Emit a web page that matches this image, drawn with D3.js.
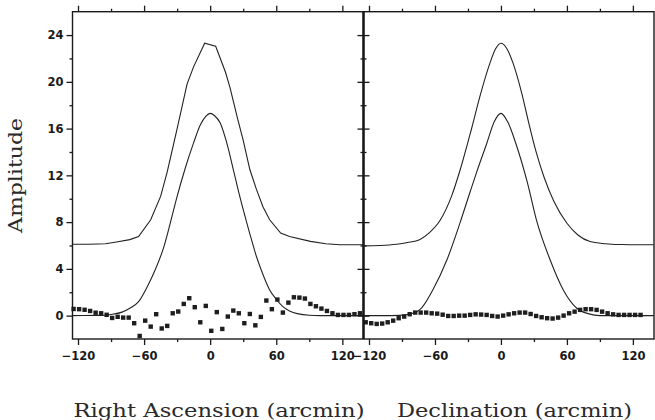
<!DOCTYPE html>
<html>
<head>
<meta charset="utf-8">
<script src="https://cdn.jsdelivr.net/npm/d3@7"></script>
<style>
  html, body { margin: 0; padding: 0; background: #fff; }
  svg { display: block; }
</style>
</head>
<body>
<svg id="chart" width="655" height="420"></svg>
<script>
// ---------- DATA ----------
// Right Ascension panel
const raUpperX = [-125, -110, -95, -85, -73, -65, -54, -45, -39, -30, -21, -15, -5, 5, 14, 18, 25, 30, 36, 42, 48, 54, 64, 72, 91, 105, 118, 139];
const raUpperY = [6.1, 6.1, 6.15, 6.3, 6.5, 6.77, 8.2, 10.2, 12.3, 16.0, 19.8, 21.3, 23.3, 23.05, 20.8, 19.5, 16.8, 15.0, 12.5, 10.8, 9.3, 8.2, 7.06, 6.77, 6.35, 6.15, 6.06, 6.06];
const raLowerX = [-125, -100, -90, -80, -73, -65, -57, -50, -42, -36, -30, -23, -15, -9, -4, 0, 4, 9, 15, 21, 25, 30, 36, 42, 48, 54, 60, 66, 72, 80, 90, 100, 139];
const raLowerY = [0, 0.02, 0.1, 0.3, 0.63, 1.2, 2.5, 3.9, 5.9, 8.0, 10.2, 12.5, 14.8, 16.3, 17.05, 17.3, 17.1, 16.5, 14.8, 12.5, 10.9, 9.06, 7.0, 5.06, 3.5, 2.2, 1.4, 0.77, 0.4, 0.15, 0.03, 0, 0];
const raResX = [-124, -119, -114, -109, -104, -99, -94, -89, -84, -79, -74, -69, -64, -59, -54, -49, -44, -39, -34, -29, -24, -19, -14, -9, -4, 1, 6, 11, 16, 21, 26, 31, 36, 41, 46, 51, 56, 61, 66, 71, 76, 81, 86, 91, 96, 101, 106, 111, 116, 121, 126, 131, 136];
const raResY = [0.57, 0.55, 0.5, 0.4, 0.25, 0.2, 0.07, -0.2, -0.1, -0.17, -0.17, -0.65, -1.74, -0.43, -0.94, 0.12, -1.1, -0.88, 0.2, 0.35, 1.0, 1.49, 0.72, -0.57, 0.83, -1.3, 0.3, -1.14, -0.08, 0.43, 0.2, -0.65, 0.14, -0.83, -0.11, 1.29, 0.55, 1.37, 0.26, 1.11, 1.57, 1.54, 1.46, 1.0, 0.8, 0.6, 0.4, 0.2, 0.06, 0.06, 0.06, 0.12, 0.2];

// Declination panel
const decUpperX = [-125, -110, -95, -85, -74, -65, -55, -45, -37, -27, -19, -10, -5, 0, 5, 11, 19, 25, 32, 39, 48, 60, 70, 81, 95, 110, 125, 139];
const decUpperY = [5.97, 6.0, 6.1, 6.25, 6.5, 7.1, 8.2, 10.2, 12.5, 15.9, 18.8, 21.6, 22.8, 23.3, 22.9, 21.6, 19.0, 16.6, 14.0, 11.9, 9.8, 7.9, 6.9, 6.34, 6.15, 6.08, 6.06, 6.06];
const decLowerX = [-125, -100, -85, -74, -62, -49, -37, -28, -22, -13, -6, 0, 6, 14, 24, 32.5, 44.6, 56.7, 69, 80, 90, 139];
const decLowerY = [0, 0, 0.1, 0.49, 2.2, 4.8, 8.0, 10.6, 12.3, 14.7, 16.6, 17.3, 16.6, 14.6, 11.4, 8.1, 4.8, 2.2, 0.63, 0.15, 0, 0];
const decResX = [-123, -118, -113, -108, -103, -98, -93, -88, -83, -78, -73, -68, -63, -58, -53, -48, -43, -38, -33, -28, -23, -18, -13, -8, -3, 2, 7, 12, 17, 22, 27, 32, 37, 42, 47, 52, 57, 62, 67, 72, 77, 82, 87, 92, 97, 102, 107, 112, 117, 122, 127];
const decResY = [-0.57, -0.65, -0.71, -0.68, -0.57, -0.43, -0.22, -0.08, 0.12, 0.26, 0.26, 0.26, 0.2, 0.17, 0.08, -0.03, -0.03, 0, 0, 0.06, 0.11, 0.09, 0.06, -0.03, -0.08, 0, 0.11, 0.2, 0.26, 0.26, 0.14, -0.03, -0.14, -0.22, -0.25, -0.17, 0, 0.2, 0.34, 0.49, 0.55, 0.55, 0.49, 0.34, 0.2, 0.11, 0.06, 0.06, 0.06, 0.06, 0.06];

const xMajorTicks = [-120, -60, 0, 60, 120];
const xMinorTicks = [-90, -30, 30, 90];
const yMajorTicks = [0, 4, 8, 12, 16, 20, 24];
const yMinorTicks = [2, 6, 10, 14, 18, 22];
const xTitles = ["Right Ascension (arcmin)", "Declination (arcmin)"];
const yTitle = "Amplitude";

// ---------- LAYOUT ----------
const svg = d3.select("#chart");
const L = 72.5, M = 363.5, R = 654, T = 11.7, B = 339;
const xDomain = [-125, 139.2];
const yDomain = [-2, 26];

const y = d3.scaleLinear().domain(yDomain).range([B, T]);
const xLeft = d3.scaleLinear().domain(xDomain).range([L, M]);
const xRight = d3.scaleLinear().domain(xDomain).range([M, R]);

const ink = "#1a1a1a";
const fmt = d3.format("d");

function styleAxis(g) {
  g.select(".domain").remove();
  g.selectAll(".tick line").attr("stroke", ink).attr("stroke-width", 1.3);
  g.selectAll(".tick text")
    .attr("fill", ink)
    .style("font-family", "'DejaVu Sans', sans-serif")
    .style("font-weight", "bold")
    .style("font-size", "11.5px");
}

function panel(x, upperX, upperY, lowerX, lowerY, resX, resY, upperCurve, lowerCurve) {
  svg.append("g").attr("transform", `translate(0,${B})`)
    .call(d3.axisBottom(x).tickValues(xMajorTicks).tickSize(6).tickPadding(7).tickFormat(fmt))
    .call(styleAxis);
  svg.append("g").attr("transform", `translate(0,${B})`)
    .call(d3.axisBottom(x).tickValues(xMinorTicks).tickSize(3).tickFormat(""))
    .call(styleAxis);
  svg.append("g").attr("transform", `translate(0,${T})`)
    .call(d3.axisTop(x).tickValues(xMajorTicks).tickSize(6).tickFormat(""))
    .call(styleAxis);
  svg.append("g").attr("transform", `translate(0,${T})`)
    .call(d3.axisTop(x).tickValues(xMinorTicks).tickSize(3).tickFormat(""))
    .call(styleAxis);

  const lineU = d3.line().x((d, i) => x(upperX[i])).y(d => y(d)).curve(upperCurve);
  const lineL = d3.line().x((d, i) => x(lowerX[i])).y(d => y(d)).curve(lowerCurve);
  svg.append("path").datum(upperY).attr("d", lineU)
    .attr("fill", "none").attr("stroke", "#222").attr("stroke-width", 1.1);
  svg.append("path").datum(lowerY).attr("d", lineL)
    .attr("fill", "none").attr("stroke", "#222").attr("stroke-width", 1.1);

  const s = 4.4;
  svg.append("g").selectAll("rect").data(resY).join("rect")
    .attr("x", (d, i) => x(resX[i]) - s / 2)
    .attr("y", d => y(d) - s / 2)
    .attr("width", s).attr("height", s)
    .attr("fill", "#1e1e1e");
}

panel(xLeft, raUpperX, raUpperY, raLowerX, raLowerY, raResX, raResY, d3.curveLinear, d3.curveMonotoneX);
panel(xRight, decUpperX, decUpperY, decLowerX, decLowerY, decResX, decResY, d3.curveMonotoneX, d3.curveMonotoneX);

svg.append("g").attr("transform", `translate(${L},0)`)
  .call(d3.axisLeft(y).tickValues(yMajorTicks).tickSize(6).tickPadding(3).tickFormat(fmt))
  .call(styleAxis);
svg.append("g").attr("transform", `translate(${L},0)`)
  .call(d3.axisLeft(y).tickValues(yMinorTicks).tickSize(3).tickFormat(""))
  .call(styleAxis);

[d3.axisLeft, d3.axisRight].forEach(ax => {
  svg.append("g").attr("transform", `translate(${M},0)`)
    .call(ax(y).tickValues(yMajorTicks).tickSize(6).tickFormat(""))
    .call(styleAxis);
  svg.append("g").attr("transform", `translate(${M},0)`)
    .call(ax(y).tickValues(yMinorTicks).tickSize(3).tickFormat(""))
    .call(styleAxis);
});

svg.append("rect").attr("x", L).attr("y", T).attr("width", R - L).attr("height", B - T)
  .attr("fill", "none").attr("stroke", ink).attr("stroke-width", 1.4);
svg.append("line").attr("x1", M).attr("x2", M).attr("y1", T).attr("y2", B)
  .attr("stroke", ink).attr("stroke-width", 2.6);

const serif = "'DejaVu Serif', 'Liberation Serif', serif";
svg.append("text").text(xTitles[0])
  .attr("x", 73.5).attr("y", 417)
  .attr("textLength", 291).attr("lengthAdjust", "spacingAndGlyphs")
  .style("font-family", serif).style("font-size", "18px").attr("fill", "#2a2a2a");
svg.append("text").text(xTitles[1])
  .attr("x", 397).attr("y", 417)
  .attr("textLength", 235).attr("lengthAdjust", "spacingAndGlyphs")
  .style("font-family", serif).style("font-size", "18px").attr("fill", "#2a2a2a");
svg.append("text").text(yTitle)
  .attr("transform", "translate(22,233) rotate(-90)")
  .attr("textLength", 115).attr("lengthAdjust", "spacingAndGlyphs")
  .style("font-family", serif).style("font-size", "18px").attr("fill", "#2a2a2a");
</script>
</body>
</html>
